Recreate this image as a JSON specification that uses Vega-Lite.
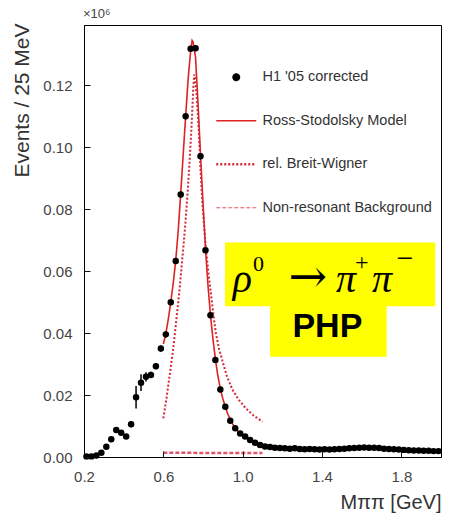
{
  "$schema": "https://vega.github.io/schema/vega-lite/v6.json",
  "width": 357,
  "height": 432,
  "autosize": {"type": "none"},
  "padding": {"left": 84, "top": 25, "right": 14, "bottom": 61},
  "background": "white",
  "title": {"text": "×10⁶", "anchor": "start", "frame": "group", "fontSize": 13, "fontWeight": "normal", "color": "#444", "font": "Liberation Sans", "offset": 2, "dx": -1},
  "config": {
    "view": {"stroke": "black", "strokeWidth": 1},
    "font": "Liberation Sans",
    "axis": {"grid": false, "ticks": true, "domainColor": "black", "tickColor": "#111", "tickWidth": 1, "labelColor": "#444", "titleColor": "#333", "labelFont": "Liberation Sans", "titleFont": "Liberation Sans", "labelFontSize": 15, "titleFontSize": 21, "titleFontWeight": "normal", "labelOverlap": false, "labelFlush": false, "labelBound": false}
  },
  "datasets": {
    "h1": [
      {"m": 0.2125, "events": 0.0002, "err": 0.0003},
      {"m": 0.2375, "events": 0.0002, "err": 0.0003},
      {"m": 0.2625, "events": 0.0005, "err": 0.0004},
      {"m": 0.2875, "events": 0.0014, "err": 0.0005},
      {"m": 0.3125, "events": 0.0033, "err": 0.0006},
      {"m": 0.3375, "events": 0.0057, "err": 0.0007},
      {"m": 0.3625, "events": 0.0087, "err": 0.0008},
      {"m": 0.3875, "events": 0.0078, "err": 0.0008},
      {"m": 0.4125, "events": 0.0066, "err": 0.0008},
      {"m": 0.4375, "events": 0.0106, "err": 0.0010},
      {"m": 0.4625, "events": 0.0193, "err": 0.0036},
      {"m": 0.4875, "events": 0.0240, "err": 0.0027},
      {"m": 0.5125, "events": 0.0259, "err": 0.0015},
      {"m": 0.5375, "events": 0.0265, "err": 0.0010},
      {"m": 0.5625, "events": 0.0293, "err": 0.0010},
      {"m": 0.5875, "events": 0.0350, "err": 0.0010},
      {"m": 0.6125, "events": 0.0396, "err": 0.0010},
      {"m": 0.6375, "events": 0.0500, "err": 0.0010},
      {"m": 0.6625, "events": 0.0633, "err": 0.0010},
      {"m": 0.6875, "events": 0.0848, "err": 0.0010},
      {"m": 0.7125, "events": 0.1100, "err": 0.0010},
      {"m": 0.7375, "events": 0.1318, "err": 0.0010},
      {"m": 0.7625, "events": 0.1320, "err": 0.0010},
      {"m": 0.7875, "events": 0.0971, "err": 0.0010},
      {"m": 0.8125, "events": 0.0668, "err": 0.0010},
      {"m": 0.8375, "events": 0.0458, "err": 0.0010},
      {"m": 0.8625, "events": 0.0313, "err": 0.0009},
      {"m": 0.8875, "events": 0.0218, "err": 0.0009},
      {"m": 0.9125, "events": 0.0162, "err": 0.0008},
      {"m": 0.9375, "events": 0.0117, "err": 0.0008},
      {"m": 0.9625, "events": 0.0093, "err": 0.0008},
      {"m": 0.9875, "events": 0.0076, "err": 0.0007},
      {"m": 1.0125, "events": 0.0066, "err": 0.0007},
      {"m": 1.0375, "events": 0.0055, "err": 0.0007},
      {"m": 1.0625, "events": 0.0046, "err": 0.0007},
      {"m": 1.0875, "events": 0.0039, "err": 0.0007},
      {"m": 1.1125, "events": 0.0034, "err": 0.0007},
      {"m": 1.1375, "events": 0.0032, "err": 0.0007},
      {"m": 1.1625, "events": 0.0030, "err": 0.0007},
      {"m": 1.1875, "events": 0.0029, "err": 0.0007},
      {"m": 1.2125, "events": 0.0028, "err": 0.0007},
      {"m": 1.2375, "events": 0.0027, "err": 0.0007},
      {"m": 1.2625, "events": 0.0028, "err": 0.0007},
      {"m": 1.2875, "events": 0.0026, "err": 0.0007},
      {"m": 1.3125, "events": 0.0025, "err": 0.0007},
      {"m": 1.3375, "events": 0.0026, "err": 0.0007},
      {"m": 1.3625, "events": 0.0025, "err": 0.0007},
      {"m": 1.3875, "events": 0.0024, "err": 0.0007},
      {"m": 1.4125, "events": 0.0025, "err": 0.0007},
      {"m": 1.4375, "events": 0.0024, "err": 0.0007},
      {"m": 1.4625, "events": 0.0025, "err": 0.0007},
      {"m": 1.4875, "events": 0.0026, "err": 0.0007},
      {"m": 1.5125, "events": 0.0027, "err": 0.0007},
      {"m": 1.5375, "events": 0.0028, "err": 0.0007},
      {"m": 1.5625, "events": 0.0029, "err": 0.0007},
      {"m": 1.5875, "events": 0.0030, "err": 0.0007},
      {"m": 1.6125, "events": 0.0031, "err": 0.0007},
      {"m": 1.6375, "events": 0.0030, "err": 0.0007},
      {"m": 1.6625, "events": 0.0030, "err": 0.0007},
      {"m": 1.6875, "events": 0.0029, "err": 0.0007},
      {"m": 1.7125, "events": 0.0027, "err": 0.0007},
      {"m": 1.7375, "events": 0.0026, "err": 0.0007},
      {"m": 1.7625, "events": 0.0025, "err": 0.0007},
      {"m": 1.7875, "events": 0.0024, "err": 0.0007},
      {"m": 1.8125, "events": 0.0023, "err": 0.0007},
      {"m": 1.8375, "events": 0.0022, "err": 0.0007},
      {"m": 1.8625, "events": 0.0021, "err": 0.0007},
      {"m": 1.8875, "events": 0.0021, "err": 0.0007},
      {"m": 1.9125, "events": 0.0020, "err": 0.0007},
      {"m": 1.9375, "events": 0.0020, "err": 0.0007},
      {"m": 1.9625, "events": 0.0019, "err": 0.0007},
      {"m": 1.9875, "events": 0.0019, "err": 0.0007}
    ],
    "curves": [
      {"series": "Ross-Stodolsky Model", "m": 0.600, "events": 0.0365},
      {"series": "Ross-Stodolsky Model", "m": 0.6125, "events": 0.0398},
      {"series": "Ross-Stodolsky Model", "m": 0.625, "events": 0.0445},
      {"series": "Ross-Stodolsky Model", "m": 0.6375, "events": 0.0500},
      {"series": "Ross-Stodolsky Model", "m": 0.650, "events": 0.0562},
      {"series": "Ross-Stodolsky Model", "m": 0.6625, "events": 0.0635},
      {"series": "Ross-Stodolsky Model", "m": 0.675, "events": 0.0730},
      {"series": "Ross-Stodolsky Model", "m": 0.6875, "events": 0.0850},
      {"series": "Ross-Stodolsky Model", "m": 0.700, "events": 0.0975},
      {"series": "Ross-Stodolsky Model", "m": 0.7125, "events": 0.1100},
      {"series": "Ross-Stodolsky Model", "m": 0.725, "events": 0.1220},
      {"series": "Ross-Stodolsky Model", "m": 0.7375, "events": 0.1310},
      {"series": "Ross-Stodolsky Model", "m": 0.745, "events": 0.1345},
      {"series": "Ross-Stodolsky Model", "m": 0.750, "events": 0.1340},
      {"series": "Ross-Stodolsky Model", "m": 0.7625, "events": 0.1290},
      {"series": "Ross-Stodolsky Model", "m": 0.775, "events": 0.1140},
      {"series": "Ross-Stodolsky Model", "m": 0.7875, "events": 0.0975},
      {"series": "Ross-Stodolsky Model", "m": 0.800, "events": 0.0820},
      {"series": "Ross-Stodolsky Model", "m": 0.8125, "events": 0.0675},
      {"series": "Ross-Stodolsky Model", "m": 0.825, "events": 0.0555},
      {"series": "Ross-Stodolsky Model", "m": 0.8375, "events": 0.0460},
      {"series": "Ross-Stodolsky Model", "m": 0.850, "events": 0.0382},
      {"series": "Ross-Stodolsky Model", "m": 0.8625, "events": 0.0316},
      {"series": "Ross-Stodolsky Model", "m": 0.875, "events": 0.0262},
      {"series": "Ross-Stodolsky Model", "m": 0.8875, "events": 0.0220},
      {"series": "Ross-Stodolsky Model", "m": 0.900, "events": 0.0188},
      {"series": "Ross-Stodolsky Model", "m": 0.9125, "events": 0.0162},
      {"series": "Ross-Stodolsky Model", "m": 0.925, "events": 0.0139},
      {"series": "Ross-Stodolsky Model", "m": 0.9375, "events": 0.0121},
      {"series": "Ross-Stodolsky Model", "m": 0.950, "events": 0.0106},
      {"series": "Ross-Stodolsky Model", "m": 0.9625, "events": 0.0094},
      {"series": "Ross-Stodolsky Model", "m": 0.975, "events": 0.0084},
      {"series": "Ross-Stodolsky Model", "m": 0.9875, "events": 0.0076},
      {"series": "Ross-Stodolsky Model", "m": 1.000, "events": 0.0069},
      {"series": "Ross-Stodolsky Model", "m": 1.0125, "events": 0.0063},
      {"series": "Ross-Stodolsky Model", "m": 1.025, "events": 0.0058},
      {"series": "Ross-Stodolsky Model", "m": 1.0375, "events": 0.0053},
      {"series": "Ross-Stodolsky Model", "m": 1.050, "events": 0.0049},
      {"series": "Ross-Stodolsky Model", "m": 1.0625, "events": 0.0046},
      {"series": "Ross-Stodolsky Model", "m": 1.075, "events": 0.0043},
      {"series": "Ross-Stodolsky Model", "m": 1.0875, "events": 0.0040},
      {"series": "Ross-Stodolsky Model", "m": 1.100, "events": 0.0037},
      {"series": "rel. Breit-Wigner", "m": 0.600, "events": 0.0125},
      {"series": "rel. Breit-Wigner", "m": 0.615, "events": 0.0185},
      {"series": "rel. Breit-Wigner", "m": 0.630, "events": 0.0255},
      {"series": "rel. Breit-Wigner", "m": 0.650, "events": 0.0350},
      {"series": "rel. Breit-Wigner", "m": 0.665, "events": 0.0440},
      {"series": "rel. Breit-Wigner", "m": 0.680, "events": 0.0530},
      {"series": "rel. Breit-Wigner", "m": 0.700, "events": 0.0670},
      {"series": "rel. Breit-Wigner", "m": 0.712, "events": 0.0760},
      {"series": "rel. Breit-Wigner", "m": 0.723, "events": 0.0860},
      {"series": "rel. Breit-Wigner", "m": 0.732, "events": 0.0950},
      {"series": "rel. Breit-Wigner", "m": 0.740, "events": 0.1040},
      {"series": "rel. Breit-Wigner", "m": 0.746, "events": 0.1120},
      {"series": "rel. Breit-Wigner", "m": 0.751, "events": 0.1190},
      {"series": "rel. Breit-Wigner", "m": 0.756, "events": 0.1235},
      {"series": "rel. Breit-Wigner", "m": 0.760, "events": 0.1225},
      {"series": "rel. Breit-Wigner", "m": 0.768, "events": 0.1170},
      {"series": "rel. Breit-Wigner", "m": 0.778, "events": 0.1065},
      {"series": "rel. Breit-Wigner", "m": 0.786, "events": 0.0950},
      {"series": "rel. Breit-Wigner", "m": 0.795, "events": 0.0840},
      {"series": "rel. Breit-Wigner", "m": 0.805, "events": 0.0750},
      {"series": "rel. Breit-Wigner", "m": 0.815, "events": 0.0670},
      {"series": "rel. Breit-Wigner", "m": 0.828, "events": 0.0590},
      {"series": "rel. Breit-Wigner", "m": 0.840, "events": 0.0528},
      {"series": "rel. Breit-Wigner", "m": 0.852, "events": 0.0460},
      {"series": "rel. Breit-Wigner", "m": 0.865, "events": 0.0400},
      {"series": "rel. Breit-Wigner", "m": 0.880, "events": 0.0352},
      {"series": "rel. Breit-Wigner", "m": 0.898, "events": 0.0310},
      {"series": "rel. Breit-Wigner", "m": 0.920, "events": 0.0262},
      {"series": "rel. Breit-Wigner", "m": 0.948, "events": 0.0218},
      {"series": "rel. Breit-Wigner", "m": 0.980, "events": 0.0185},
      {"series": "rel. Breit-Wigner", "m": 1.016, "events": 0.0157},
      {"series": "rel. Breit-Wigner", "m": 1.055, "events": 0.0134},
      {"series": "rel. Breit-Wigner", "m": 1.100, "events": 0.0114},
      {"series": "Non-resonant Background", "m": 0.600, "events": 0.0014},
      {"series": "Non-resonant Background", "m": 0.700, "events": 0.0014},
      {"series": "Non-resonant Background", "m": 0.800, "events": 0.0013},
      {"series": "Non-resonant Background", "m": 0.900, "events": 0.0013},
      {"series": "Non-resonant Background", "m": 1.000, "events": 0.0013},
      {"series": "Non-resonant Background", "m": 1.100, "events": 0.0013}
    ]
  },
  "layer": [
    {
      "data": {"name": "curves"},
      "mark": {"type": "line", "clip": true},
      "encoding": {
        "x": {"field": "m", "type": "quantitative", "title": "Mππ [GeV]",
          "scale": {"domain": [0.2, 2.0], "nice": false, "zero": false},
          "axis": {"title": "Mππ [GeV]", "titleAnchor": "end", "titleAlign": "right", "titleBaseline": "alphabetic", "titleX": 357, "titleY": 51, "titleFontSize": 20, "zindex": 1, "labelOverlap": false,
            "values": [0.2,0.25,0.3,0.35,0.4,0.45,0.5,0.55,0.6,0.65,0.7,0.75,0.8,0.85,0.9,0.95,1.0,1.05,1.1,1.15,1.2,1.25,1.3,1.35,1.4,1.45,1.5,1.55,1.6,1.65,1.7,1.75,1.8,1.85,1.9,1.95,2.0],
            "labelExpr": "round(datum.value*20) % 4 == 0 ? format(datum.value, '.1f') : ''",
            "tickSize": -6, "labelPadding": 18}},
        "y": {"field": "events", "type": "quantitative", "title": "Events / 25 MeV",
          "scale": {"domain": [0, 0.1395], "nice": false, "zero": false},
          "axis": {"title": "Events / 25 MeV", "titleAnchor": null, "titleAlign": "center", "titleBaseline": "alphabetic", "titleX": -56, "titleY": 75, "titleAngle": -90, "zindex": 1, "labelOverlap": false,
            "values": [0,0.005,0.01,0.015,0.02,0.025,0.03,0.035,0.04,0.045,0.05,0.055,0.06,0.065,0.07,0.075,0.08,0.085,0.09,0.095,0.1,0.105,0.11,0.115,0.12,0.125,0.13,0.135],
            "labelExpr": "round(datum.value*200) % 4 == 0 ? format(datum.value, '.2f') : ''",
            "tickSize": -6, "labelPadding": 18}},
        "detail": {"field": "series"},
        "color": {"field": "series", "type": "nominal",
          "scale": {"domain": ["H1 '05 corrected", "Ross-Stodolsky Model", "rel. Breit-Wigner", "Non-resonant Background"], "range": ["#000000", "#dd2222", "#d42a3a", "#e0566a"]},
          "legend": {"title": null, "orient": "none", "legendX": 145, "legendY": 45, "padding": 0,
            "labelFontSize": 14.5, "labelColor": "#333", "labelFont": "Liberation Sans", "labelOffset": 19, "labelLimit": 400,
            "symbolSize": 1600, "rowPadding": 28.5,
            "encode": {"symbols": {"update": {
              "shape": {"signal": "datum.value === \"H1 '05 corrected\" ? 'circle' : 'stroke'"},
              "size": {"signal": "datum.value === \"H1 '05 corrected\" ? 40 : 1600"},
              "fill": {"signal": "datum.value === \"H1 '05 corrected\" ? 'black' : 'transparent'"},
              "stroke": {"signal": "datum.value === \"H1 '05 corrected\" ? 'black' : (datum.value === 'Non-resonant Background' ? '#e0566a' : '#dd2222')"},
              "strokeDash": {"signal": "datum.value === 'rel. Breit-Wigner' ? [2, 2] : (datum.value === 'Non-resonant Background' ? [4, 2] : [1, 0])"},
              "strokeWidth": {"signal": "datum.value === 'rel. Breit-Wigner' ? 2.5 : (datum.value === 'Non-resonant Background' ? 1 : 1.6)"},
              "opacity": {"value": 1}
            }}}}},
        "strokeDash": {"field": "series", "type": "nominal",
          "scale": {"domain": ["Ross-Stodolsky Model", "rel. Breit-Wigner", "Non-resonant Background"], "range": [[1, 0], [2, 2], [4, 2]]}, "legend": null},
        "strokeWidth": {"field": "series", "type": "nominal",
          "scale": {"domain": ["Ross-Stodolsky Model", "rel. Breit-Wigner", "Non-resonant Background"], "range": [1.6, 2.5, 1]}, "legend": null}
      }
    },
    {
      "data": {"name": "h1"},
      "mark": {"type": "errorbar", "ticks": false, "thickness": 1.5, "color": "black"},
      "encoding": {
        "x": {"field": "m", "type": "quantitative", "title": "Mππ [GeV]",
          "scale": {"domain": [0.2, 2.0], "nice": false, "zero": false},
          "axis": {"title": "Mππ [GeV]", "titleAnchor": "end", "titleAlign": "right", "titleBaseline": "alphabetic", "titleX": 357, "titleY": 51, "titleFontSize": 20, "zindex": 1, "labelOverlap": false,
            "values": [0.2,0.25,0.3,0.35,0.4,0.45,0.5,0.55,0.6,0.65,0.7,0.75,0.8,0.85,0.9,0.95,1.0,1.05,1.1,1.15,1.2,1.25,1.3,1.35,1.4,1.45,1.5,1.55,1.6,1.65,1.7,1.75,1.8,1.85,1.9,1.95,2.0],
            "labelExpr": "round(datum.value*20) % 4 == 0 ? format(datum.value, '.1f') : ''",
            "tickSize": -6, "labelPadding": 18}},
        "y": {"field": "events", "type": "quantitative", "title": "Events / 25 MeV",
          "scale": {"domain": [0, 0.1395], "nice": false, "zero": false},
          "axis": {"title": "Events / 25 MeV", "titleAnchor": null, "titleAlign": "center", "titleBaseline": "alphabetic", "titleX": -56, "titleY": 75, "titleAngle": -90, "zindex": 1, "labelOverlap": false,
            "values": [0,0.005,0.01,0.015,0.02,0.025,0.03,0.035,0.04,0.045,0.05,0.055,0.06,0.065,0.07,0.075,0.08,0.085,0.09,0.095,0.1,0.105,0.11,0.115,0.12,0.125,0.13,0.135],
            "labelExpr": "round(datum.value*200) % 4 == 0 ? format(datum.value, '.2f') : ''",
            "tickSize": -6, "labelPadding": 18}},
        "yError": {"field": "err"}
      }
    },
    {
      "data": {"name": "h1"},
      "mark": {"type": "circle", "size": 42, "opacity": 1, "color": "black"},
      "encoding": {
        "x": {"field": "m", "type": "quantitative", "title": "Mππ [GeV]",
          "scale": {"domain": [0.2, 2.0], "nice": false, "zero": false},
          "axis": {"title": "Mππ [GeV]", "titleAnchor": "end", "titleAlign": "right", "titleBaseline": "alphabetic", "titleX": 357, "titleY": 51, "titleFontSize": 20, "zindex": 1, "labelOverlap": false,
            "values": [0.2,0.25,0.3,0.35,0.4,0.45,0.5,0.55,0.6,0.65,0.7,0.75,0.8,0.85,0.9,0.95,1.0,1.05,1.1,1.15,1.2,1.25,1.3,1.35,1.4,1.45,1.5,1.55,1.6,1.65,1.7,1.75,1.8,1.85,1.9,1.95,2.0],
            "labelExpr": "round(datum.value*20) % 4 == 0 ? format(datum.value, '.1f') : ''",
            "tickSize": -6, "labelPadding": 18}},
        "y": {"field": "events", "type": "quantitative", "title": "Events / 25 MeV",
          "scale": {"domain": [0, 0.1395], "nice": false, "zero": false},
          "axis": {"title": "Events / 25 MeV", "titleAnchor": null, "titleAlign": "center", "titleBaseline": "alphabetic", "titleX": -56, "titleY": 75, "titleAngle": -90, "zindex": 1, "labelOverlap": false,
            "values": [0,0.005,0.01,0.015,0.02,0.025,0.03,0.035,0.04,0.045,0.05,0.055,0.06,0.065,0.07,0.075,0.08,0.085,0.09,0.095,0.1,0.105,0.11,0.115,0.12,0.125,0.13,0.135],
            "labelExpr": "round(datum.value*200) % 4 == 0 ? format(datum.value, '.2f') : ''",
            "tickSize": -6, "labelPadding": 18}}
      }
    },
    {
      "data": {"values": [{"box": "PHP"}]},
      "mark": {"type": "rect", "color": "#ffff00"},
      "encoding": {
        "x": {"datum": 1.138, "type": "quantitative"},
        "x2": {"datum": 1.726},
        "y": {"datum": 0.0324, "type": "quantitative"},
        "y2": {"datum": 0.0488}
      }
    },
    {
      "data": {"values": [{"box": "decay"}]},
      "mark": {"type": "rect", "color": "#ffff00"},
      "encoding": {
        "x": {"datum": 0.911, "type": "quantitative"},
        "x2": {"datum": 1.971},
        "y": {"datum": 0.0487, "type": "quantitative"},
        "y2": {"datum": 0.0693}
      }
    },
    {
      "data": {"values": [{"label": "ρ"}]},
      "mark": {"type": "text", "font": "Liberation Serif", "fontStyle": "italic", "fontSize": 40, "align": "center", "baseline": "alphabetic", "color": "black"},
      "encoding": {"x": {"datum": 0.999, "type": "quantitative"}, "y": {"datum": 0.0532, "type": "quantitative"}, "text": {"field": "label"}}
    },
    {
      "data": {"values": [{"label": "0"}]},
      "mark": {"type": "text", "font": "Liberation Serif", "fontSize": 22, "align": "center", "baseline": "middle", "color": "black"},
      "encoding": {"x": {"datum": 1.080, "type": "quantitative"}, "y": {"datum": 0.0622, "type": "quantitative"}, "text": {"field": "label"}}
    },
    {
      "data": {"values": [{"label": "→"}]},
      "mark": {"type": "text", "font": "DejaVu Serif", "fontSize": 46, "align": "center", "baseline": "alphabetic", "color": "black"},
      "encoding": {"x": {"datum": 1.328, "type": "quantitative"}, "y": {"datum": 0.0532, "type": "quantitative"}, "text": {"field": "label"}}
    },
    {
      "data": {"values": [{"label": "π"}]},
      "mark": {"type": "text", "font": "Liberation Serif", "fontStyle": "italic", "fontSize": 40, "align": "center", "baseline": "alphabetic", "color": "black"},
      "encoding": {"x": {"datum": 1.521, "type": "quantitative"}, "y": {"datum": 0.0532, "type": "quantitative"}, "text": {"field": "label"}}
    },
    {
      "data": {"values": [{"label": "+"}]},
      "mark": {"type": "text", "font": "Liberation Serif", "fontSize": 24, "align": "center", "baseline": "middle", "color": "black"},
      "encoding": {"x": {"datum": 1.600, "type": "quantitative"}, "y": {"datum": 0.0626, "type": "quantitative"}, "text": {"field": "label"}}
    },
    {
      "data": {"values": [{"label": "π"}]},
      "mark": {"type": "text", "font": "Liberation Serif", "fontStyle": "italic", "fontSize": 40, "align": "center", "baseline": "alphabetic", "color": "black"},
      "encoding": {"x": {"datum": 1.703, "type": "quantitative"}, "y": {"datum": 0.0532, "type": "quantitative"}, "text": {"field": "label"}}
    },
    {
      "data": {"values": [{"label": "−"}]},
      "mark": {"type": "text", "font": "Liberation Serif", "fontSize": 30, "align": "center", "baseline": "middle", "color": "black"},
      "encoding": {"x": {"datum": 1.818, "type": "quantitative"}, "y": {"datum": 0.0638, "type": "quantitative"}, "text": {"field": "label"}}
    },
    {
      "data": {"values": [{"label": "PHP"}]},
      "mark": {"type": "text", "font": "Liberation Sans", "fontWeight": "bold", "fontSize": 34, "align": "center", "baseline": "alphabetic", "color": "black"},
      "encoding": {
        "x": {"datum": 1.427, "type": "quantitative"},
        "y": {"datum": 0.0387, "type": "quantitative"},
        "text": {"field": "label"}
      }
    }
  ]
}
